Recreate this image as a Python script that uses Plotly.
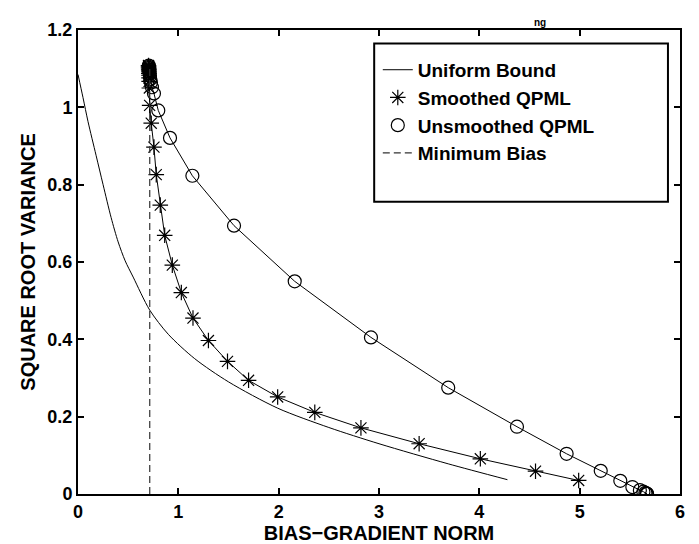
import plotly.graph_objects as go

# Uniform bound curve
ub_x = [0, 0.05, 0.1, 0.18, 0.25, 0.33, 0.4, 0.47, 0.55, 0.714, 0.9, 1.163, 1.5, 1.99, 2.5, 3.0, 3.69, 4.28]
ub_y = [1.085, 1.025, 0.963, 0.876, 0.80, 0.715, 0.652, 0.603, 0.561, 0.476, 0.413, 0.35, 0.29, 0.222, 0.172, 0.13, 0.078, 0.037]

# Smoothed QPML
sm_x = [0.703, 0.704, 0.704, 0.705, 0.705, 0.706, 0.706, 0.707, 0.708, 0.709, 0.711, 0.714, 0.73, 0.757, 0.78,
        0.82, 0.864, 0.94, 1.03, 1.146, 1.30, 1.49, 1.70, 1.99, 2.36, 2.82, 3.40, 4.01, 4.56, 4.99]
sm_y = [1.108, 1.105, 1.102, 1.099, 1.096, 1.092, 1.088, 1.083, 1.076, 1.067, 1.05, 1.005, 0.959, 0.897, 0.826,
        0.747, 0.669, 0.592, 0.521, 0.455, 0.397, 0.343, 0.294, 0.251, 0.211, 0.171, 0.130, 0.091, 0.059, 0.035]

# Unsmoothed QPML
un_x = [0.706, 0.707, 0.708, 0.709, 0.71, 0.712, 0.714, 0.717, 0.721, 0.727, 0.737, 0.757, 0.80, 0.917, 1.14,
        1.555, 2.16, 2.92, 3.69, 4.375, 4.87, 5.21, 5.405, 5.525, 5.60, 5.635, 5.655, 5.665, 5.67, 5.672]
un_y = [1.108, 1.105, 1.102, 1.099, 1.096, 1.092, 1.087, 1.081, 1.073, 1.064, 1.052, 1.036, 0.992, 0.921, 0.823,
        0.694, 0.55, 0.405, 0.275, 0.174, 0.104, 0.060, 0.034, 0.018, 0.010, 0.006, 0.003, 0.0015, 0.0007, 0.0003]

# Minimum bias
mb_x = [0.715, 0.715]
mb_y = [0, 1.1]

x_ticks = [0, 1, 2, 3, 4, 5, 6]
y_ticks = [0, 0.2, 0.4, 0.6, 0.8, 1.0, 1.2]

FONT = "Liberation Sans"
BLACK = "black"

fig = go.Figure()
fig.add_trace(go.Scatter(x=ub_x, y=ub_y, mode="lines", name="Uniform Bound",
                         line=dict(color=BLACK, width=1, shape="spline", smoothing=0.8)))
fig.add_trace(go.Scatter(x=sm_x, y=sm_y, mode="lines", showlegend=False,
                         line=dict(color=BLACK, width=1)))
fig.add_trace(go.Scatter(x=sm_x, y=sm_y, mode="markers", name="Smoothed QPML",
                         marker=dict(symbol="asterisk-open", size=13, color=BLACK,
                                     line=dict(color=BLACK, width=1.2))))
fig.add_trace(go.Scatter(x=un_x, y=un_y, mode="lines", showlegend=False,
                         line=dict(color=BLACK, width=1)))
fig.add_trace(go.Scatter(x=un_x, y=un_y, mode="markers", name="Unsmoothed QPML",
                         marker=dict(symbol="circle-open", size=13, color=BLACK,
                                     line=dict(color=BLACK, width=1.2))))
fig.add_trace(go.Scatter(x=mb_x, y=mb_y, mode="lines", name="Minimum Bias",
                         line=dict(color="#333333", width=1.2, dash="7px,4px")))

axis_common = dict(showline=True, linecolor=BLACK, linewidth=2, mirror="ticks",
                   ticks="inside", ticklen=6, tickwidth=2, tickcolor=BLACK,
                   showgrid=False, zeroline=False,
                   tickfont=dict(family=FONT, size=18, color=BLACK, weight="bold"))

fig.update_layout(
    width=699, height=544,
    margin=dict(l=70, r=27, t=13, b=55),
    paper_bgcolor="white", plot_bgcolor="white",
    xaxis=dict(range=[0, 6], tickvals=x_ticks,
               title=dict(text="BIAS\u2212GRADIENT NORM", standoff=4,
                          font=dict(family=FONT, size=20, color=BLACK, weight="bold")),
               **axis_common),
    yaxis=dict(range=[0, 1.2], tickvals=y_ticks,
               title=dict(text="SQUARE ROOT VARIANCE", standoff=6,
                          font=dict(family=FONT, size=20, color=BLACK, weight="bold")),
               **axis_common),
    legend=dict(x=0.498, y=0.955, xanchor="left", yanchor="top",
                bgcolor="rgba(0,0,0,0)", borderwidth=0,
                font=dict(family=FONT, size=19, color=BLACK, weight="bold"),
                tracegroupgap=0),
    shapes=[dict(type="rect", xref="paper", yref="paper", x0=0.492, x1=0.980, y0=0.630, y1=0.971,
                 line=dict(color=BLACK, width=2), fillcolor="white", layer="below")],
    annotations=[dict(text="ng", xref="paper", yref="paper", x=0.767, y=(489 + 1) / 476,
                      xanchor="center", yanchor="top", showarrow=False, borderpad=0,
                      font=dict(family=FONT, size=10, color=BLACK, weight="bold"))],
    showlegend=True,
)

fig.write_html("out.html")
